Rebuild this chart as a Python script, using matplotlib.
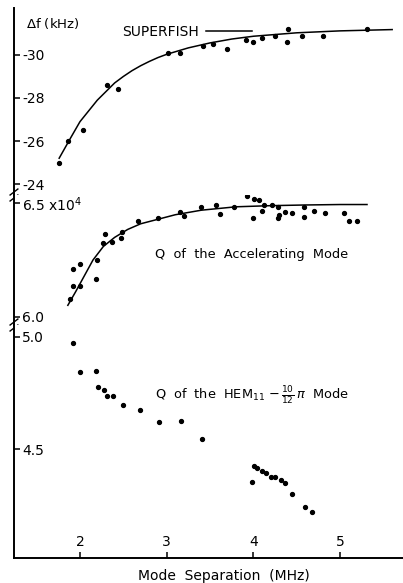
import matplotlib.pyplot as plt
from matplotlib.lines import Line2D

# --- data -------------------------------------------------------------------
# top panel: frequency shift (kHz) vs mode separation (MHz)
df_x = [1.76, 1.86, 2.03, 2.31, 2.44, 3.02, 3.15, 3.42, 3.53, 3.69, 3.92,
        3.99, 4.10, 4.25, 4.40, 4.39, 4.56, 4.80, 5.31]
df_y = [-25.0, -26.0, -26.5, -28.6, -28.4, -30.1, -30.1, -30.4, -30.5, -30.3,
        -30.7, -30.6, -30.8, -30.9, -31.2, -30.6, -30.9, -30.9, -31.2]
sf_x = [1.76, 1.83, 1.9, 2.0, 2.1, 2.2, 2.3, 2.4, 2.5, 2.6, 2.7, 2.8, 2.9,
        3.0, 3.25, 3.5, 3.75, 4.0, 4.5, 5.0, 5.6]
sf_y = [-25.2, -25.7, -26.2, -26.9, -27.4, -27.9, -28.3, -28.7, -29.0, -29.27,
        -29.5, -29.7, -29.88, -30.03, -30.33, -30.56, -30.74, -30.87, -31.03,
        -31.12, -31.18]

# middle panel: Q of the accelerating mode (x10^4)
qa_x = [1.89, 1.92, 1.92, 2.00, 2.00, 2.18, 2.20, 2.27, 2.29, 2.37, 2.47,
        2.48, 2.67, 2.90, 3.15, 3.20, 3.40, 3.57, 3.61, 3.78, 3.93, 4.01,
        4.07, 4.00, 4.10, 4.12, 4.22, 4.28, 4.28, 4.29, 4.36, 4.45, 4.58,
        4.58, 4.70, 4.83, 5.05, 5.10, 5.19]
qa_y = [6.078, 6.21, 6.134, 6.232, 6.134, 6.168, 6.249, 6.326, 6.366, 6.328,
        6.346, 6.375, 6.423, 6.434, 6.46, 6.443, 6.482, 6.492, 6.454, 6.482,
        6.531, 6.52, 6.513, 6.437, 6.465, 6.492, 6.492, 6.482, 6.437, 6.45,
        6.463, 6.456, 6.485, 6.441, 6.466, 6.459, 6.459, 6.421, 6.421]
qa_fit_x = [1.86, 1.95, 2.05, 2.15, 2.27, 2.4, 2.55, 2.7, 2.9, 3.1, 3.4, 3.8,
            4.2, 4.6, 5.0, 5.31]
qa_fit_y = [6.05, 6.11, 6.18, 6.25, 6.31, 6.35, 6.385, 6.41, 6.43, 6.45,
            6.47, 6.485, 6.49, 6.493, 6.495, 6.495]

# bottom panel: Q of the HEM11 - 10/12 pi mode (x10^4)
qh_x = [1.92, 2.00, 2.18, 2.21, 2.28, 2.31, 2.38, 2.50, 2.69, 2.915, 3.16,
        3.41, 3.98, 4.01, 4.04, 4.10, 4.15, 4.20, 4.25, 4.32, 4.37, 4.45,
        4.59, 4.68]
qh_y = [4.971, 4.843, 4.848, 4.775, 4.763, 4.738, 4.737, 4.697, 4.674, 4.623,
        4.627, 4.547, 4.356, 4.426, 4.416, 4.405, 4.396, 4.378, 4.378, 4.364,
        4.352, 4.30, 4.242, 4.22]

x_ticks = [2, 3, 4, 5]
df_ticks = [-30, -28, -26, -24]
qa_ticks = [6.0, 6.5]
qa_labels = ['6.0', '6.5 x10$^{4}$']
qh_ticks = [4.5, 5.0]
qh_labels = ['4.5', '5.0']

# --- figure -----------------------------------------------------------------
plt.rcParams['font.family'] = 'DejaVu Sans'
fig = plt.figure(figsize=(4.03, 5.83), dpi=100)

left, width = 0.0347, 0.9653
ax1 = fig.add_axes([left, 0.6655, width, 0.3203])
ax2 = fig.add_axes([left, 0.4425, width, 0.2230])
ax3 = fig.add_axes([left, 0.0434, width, 0.3991])

for ax in (ax1, ax2, ax3):
    ax.set_xlim(1.239, 5.725)
    ax.set_xticks(x_ticks)
    for s in ('top', 'right', 'bottom'):
        ax.spines[s].set_visible(False)
    ax.spines['left'].set_linewidth(1.4)
    ax.tick_params(axis='y', direction='in', length=4, width=1.1,
                   labelsize=10, pad=-6)
    ax.tick_params(axis='x', bottom=False, labelbottom=False)

ax3.spines['bottom'].set_visible(True)
ax3.spines['bottom'].set_linewidth(1.4)
ax3.tick_params(axis='x', bottom=True, labelbottom=True, direction='in',
                length=4, width=1.1, labelsize=10, pad=-16)

# top panel
ax1.plot(sf_x, sf_y, color='black', lw=1.1)
ax1.plot(df_x, df_y, 'o', color='black', ms=2.8)
ax1.set_ylim(-23.49, -32.17)
ax1.set_yticks(df_ticks)
ax1.set_yticklabels([str(t) for t in df_ticks])
ax1.text(0.03, 0.921, r'$\Delta$f (kHz)', transform=ax1.transAxes,
         fontsize=9.5, va='center', ha='left')
ax1.legend(handles=[Line2D([], [], color='black', lw=1.1)],
           labels=['SUPERFISH'], markerfirst=False, frameon=False,
           loc='center left', bbox_to_anchor=(0.278, 0.873), borderpad=0,
           borderaxespad=0, handlelength=3.3, handletextpad=0.5, fontsize=10)

# middle panel
ax2.plot(qa_fit_x, qa_fit_y, color='black', lw=1.1)
ax2.plot(qa_x, qa_y, 'o', color='black', ms=2.8)
ax2.set_ylim(5.963, 6.537)
ax2.set_yticks(qa_ticks)
ax2.set_yticklabels(qa_labels)
ax2.text(0.612, 0.54, 'Q  of  the  Accelerating  Mode', transform=ax2.transAxes,
         fontsize=9.3, ha='center', va='center')

# bottom panel
ax3.plot(qh_x, qh_y, 'o', color='black', ms=2.8)
ax3.set_ylim(4.019, 5.052)
ax3.set_yticks(qh_ticks)
ax3.set_yticklabels(qh_labels)
ax3.text(0.612, 0.695,
         r'Q  of  the  HEM$_{11}$ $-\,\frac{10}{12}\,\pi$  Mode',
         transform=ax3.transAxes, fontsize=9.3, ha='center', va='center')
ax3.set_xlabel('Mode  Separation  (MHz)', fontsize=10)
ax3.xaxis.set_label_coords(0.54, -0.048)

for ax in (ax1, ax2, ax3):
    for lbl in ax.get_yticklabels():
        lbl.set_ha('left')

# axis break marks on the left spine
for ax in (ax1, ax2):
    h = ax.get_position().height * 583
    dy = 3.0 / h
    kw = dict(transform=ax.transAxes, color='black', lw=1.0, clip_on=False)
    ax.plot([-0.01, 0.01], [-2 * dy, 0], **kw)
    ax.plot([-0.01, 0.01], [0, 2 * dy], **kw)

fig.savefig('out.png', dpi=100)
